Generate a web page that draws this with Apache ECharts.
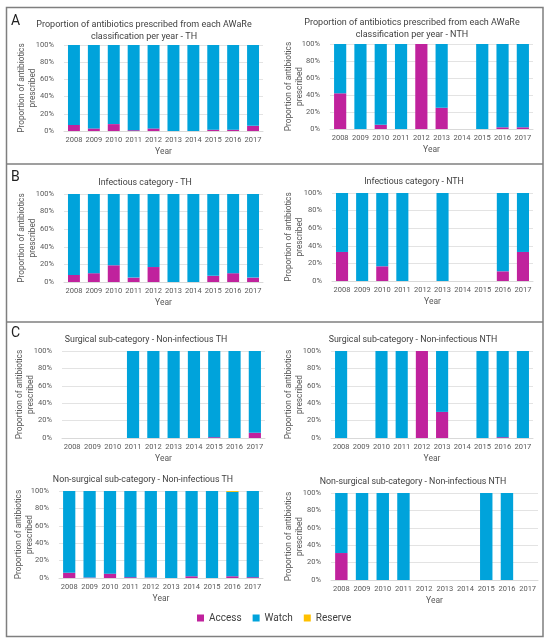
<!DOCTYPE html>
<html><head><meta charset="utf-8">
<script src="https://cdn.jsdelivr.net/npm/echarts@6/dist/echarts.min.js"></script>
<style>html,body{margin:0;padding:0;background:#fff}#c{width:550px;height:644px}</style>
</head><body><div id="c"></div>
<script>
const years = ['2008','2009','2010','2011','2012','2013','2014','2015','2016','2017'];
const yTicks = ['0%','20%','40%','60%','80%','100%'];
const seriesNames = ['Access','Watch','Reserve'];

// Panel A - TH
const aTH_access  = [7, 3, 8, 1, 3, 0, 0, 1.5, 1.5, 6];
const aTH_watch   = [93, 97, 92, 99, 97, 100, 100, 98.5, 98.5, 94];
const aTH_reserve = [0, 0, 0, 0, 0, 0, 0, 0, 0, 0];
// Panel A - NTH
const aNTH_access  = [42, 0, 5, 0, 100, 25, null, 0, 2, 2];
const aNTH_watch   = [58, 100, 95, 100, 0, 75, null, 100, 98, 98];
const aNTH_reserve = [0, 0, 0, 0, 0, 0, null, 0, 0, 0];
// Panel B - TH
const bTH_access  = [8, 10, 19, 5, 17, 0, 0, 7, 10, 5];
const bTH_watch   = [92, 90, 81, 95, 83, 100, 100, 93, 90, 95];
const bTH_reserve = [0, 0, 0, 0, 0, 0, 0, 0, 0, 0];
// Panel B - NTH
const bNTH_access  = [33, 0, 16.7, 0, null, 0, null, null, 11, 33];
const bNTH_watch   = [67, 100, 83.3, 100, null, 100, null, null, 89, 67];
const bNTH_reserve = [0, 0, 0, 0, null, 0, null, null, 0, 0];
// Panel C - Surgical TH
const cSTH_access  = [null, null, null, 0, 0, 0, 0, 1, 0, 6];
const cSTH_watch   = [null, null, null, 100, 100, 100, 100, 99, 100, 94];
const cSTH_reserve = [null, null, null, 0, 0, 0, 0, 0, 0, 0];
// Panel C - Surgical NTH
const cSNTH_access  = [0, null, 0, 0, 100, 30, null, 0, 1, 0];
const cSNTH_watch   = [100, null, 100, 100, 0, 70, null, 100, 99, 100];
const cSNTH_reserve = [0, null, 0, 0, 0, 0, null, 0, 0, 0];
// Panel C - Non-surgical TH
const cNTH_access  = [6, 0.5, 5, 1, 0.5, 0, 2, 0, 2, 1];
const cNTH_watch   = [94, 99.5, 95, 99, 99.5, 100, 98, 100, 97, 99];
const cNTH_reserve = [0, 0, 0, 0, 0, 0, 0, 0, 1, 0];
// Panel C - Non-surgical NTH
const cNNTH_access  = [31, 0, 0, 0, null, null, null, 0, 0, null];
const cNNTH_watch   = [69, 100, 100, 100, null, null, null, 100, 100, null];
const cNNTH_reserve = [0, 0, 0, 0, null, null, null, 0, 0, null];

const titles = [
  'Proportion of antibiotics prescribed from each AWaRe\nclassification per year - TH',
  'Proportion of antibiotics prescribed from each AWaRe\nclassification per year - NTH',
  'Infectious category - TH',
  'Infectious category - NTH',
  'Surgical sub-category - Non-infectious TH',
  'Surgical sub-category - Non-infectious NTH',
  'Non-surgical sub-category - Non-infectious TH',
  'Non-surgical sub-category - Non-infectious NTH'
];
const panels = [
  [aTH_access, aTH_watch, aTH_reserve],
  [aNTH_access, aNTH_watch, aNTH_reserve],
  [bTH_access, bTH_watch, bTH_reserve],
  [bNTH_access, bNTH_watch, bNTH_reserve],
  [cSTH_access, cSTH_watch, cSTH_reserve],
  [cSNTH_access, cSNTH_watch, cSNTH_reserve],
  [cNTH_access, cNTH_watch, cNTH_reserve],
  [cNNTH_access, cNNTH_watch, cNNTH_reserve]
];

// layout
const grids = [
  {left:64, top:45, width:199, height:86},
  {left:330, top:44, width:203, height:85},
  {left:64, top:194, width:199, height:88},
  {left:332, top:193, width:201, height:88},
  {left:62, top:351, width:203, height:87},
  {left:331, top:351, width:202, height:87},
  {left:59, top:491, width:204, height:87},
  {left:331, top:493, width:207, height:87}
];
const nameGaps = [26, 25, 26, 27, 26, 26, 24, 26];
const titlePos = [
  {x:139, y:14}, {x:407, y:12},
  {x:140, y:172}, {x:409, y:171},
  {x:141, y:329}, {x:408, y:329},
  {x:138, y:469}, {x:408, y:471}
];
const colors = ['#C0229D', '#00A3DB', '#FFC000'];
const FONT = 'Roboto, "Noto Sans", sans-serif';

const option = {
  animation: false,
  textStyle: {fontFamily: FONT},
  color: colors,
  title: titles.map((t, i) => ({
    text: t, left: titlePos[i].x, top: titlePos[i].y, textAlign: 'center',
    textStyle: {fontSize: i < 2 ? 9 : 8.8, fontWeight: 'normal', color: '#404040', lineHeight: 12, fontFamily: FONT}
  })),
  legend: {
    data: seriesNames, top: 613, left: 197, padding: 0, icon: 'rect', itemWidth: 7, itemHeight: 7, itemGap: 11,
    textStyle: {fontSize: 10, color: '#404040', fontFamily: FONT}
  },
  grid: grids.map(g => Object.assign({containLabel: false}, g)),
  xAxis: grids.map((g, i) => ({
    type: 'category', gridIndex: i, data: years,
    name: 'Year', nameLocation: 'middle', nameGap: 16,
    nameTextStyle: {fontSize: 8.5, color: '#595959'},
    axisLine: {lineStyle: {color: '#D9D9D9'}}, axisTick: {show: false},
    axisLabel: {fontSize: 7.5, color: '#595959', margin: 5, interval: 0}
  })),
  yAxis: grids.map((g, i) => ({
    type: 'value', gridIndex: i, min: 0, max: 100, interval: 20,
    name: 'Proportion of antibiotics\nprescribed', nameLocation: 'middle', nameGap: nameGaps[i],
    nameMoveOverlap: false,
    nameTextStyle: {fontSize: 8.3, color: '#595959', lineHeight: 11, align: 'center'},
    axisLine: {show: false}, axisTick: {show: false},
    splitLine: {lineStyle: {color: '#E3E3E3'}},
    axisLabel: {fontSize: 7.5, color: '#595959', margin: 10,
      formatter: v => yTicks[Math.round(v / 20)]}
  })),
  series: [],
  graphic: [
    {type: 'rect', shape: {x: 6.5, y: 7.5, width: 536.5, height: 629}, style: {fill: 'none', stroke: '#7F7F7F', lineWidth: 1.5}},
    {type: 'line', shape: {x1: 6.5, y1: 164, x2: 543, y2: 164}, style: {stroke: '#7F7F7F', lineWidth: 1.5}},
    {type: 'line', shape: {x1: 6.5, y1: 322, x2: 543, y2: 322}, style: {stroke: '#7F7F7F', lineWidth: 1.5}},
    {type: 'text', left: 11, top: 14, style: {text: 'A', fontSize: 14, fill: '#222', fontFamily: FONT}},
    {type: 'text', left: 11, top: 170, style: {text: 'B', fontSize: 14, fill: '#222', fontFamily: FONT}},
    {type: 'text', left: 11, top: 326, style: {text: 'C', fontSize: 14, fill: '#222', fontFamily: FONT}}
  ]
};

panels.forEach((p, i) => {
  p.forEach((arr, k) => {
    option.series.push({
      name: seriesNames[k], type: 'bar', stack: 'p' + i,
      xAxisIndex: i, yAxisIndex: i, data: arr, barWidth: '60%',
      itemStyle: {color: colors[k]}
    });
  });
});

const chart = echarts.init(document.getElementById('c'), null, {renderer: 'canvas'});
chart.setOption(option);
</script></body></html>
